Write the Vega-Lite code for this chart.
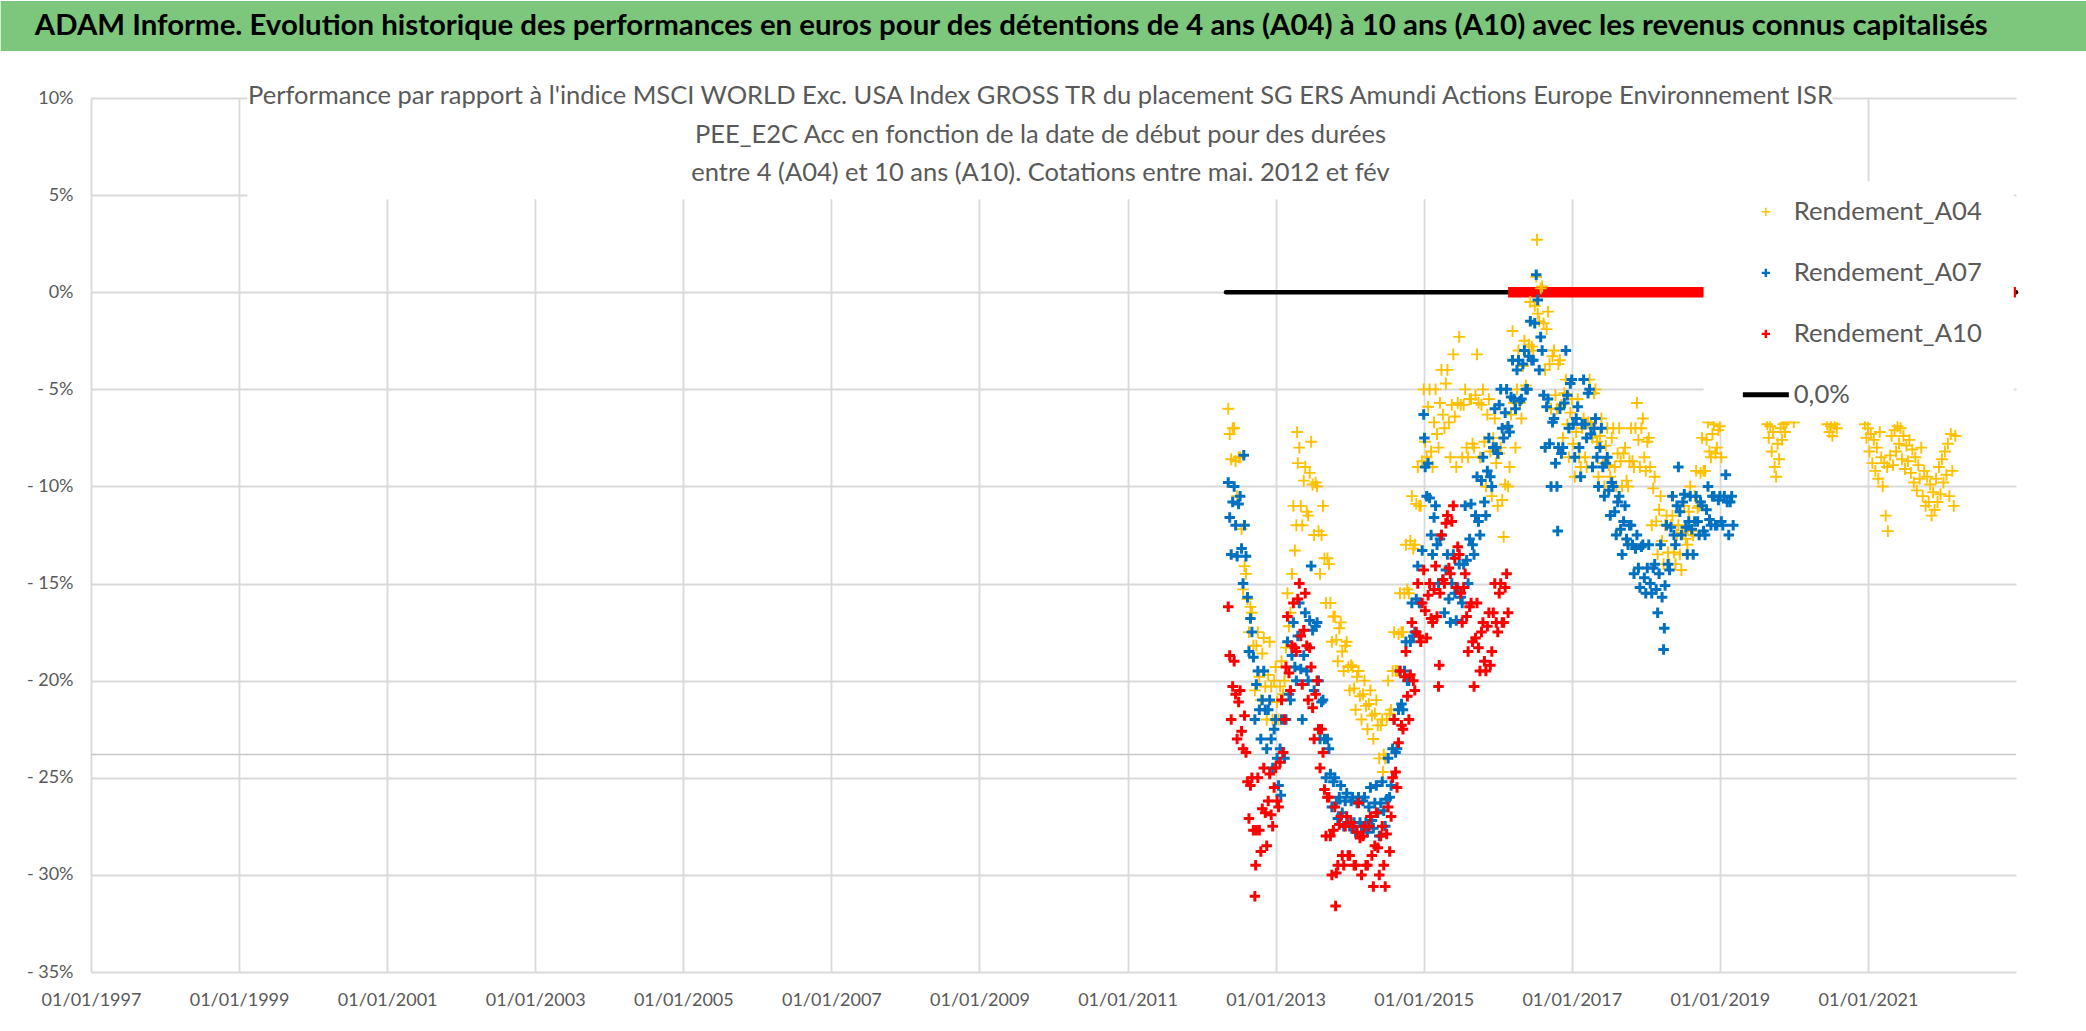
{
  "$schema": "https://vega.github.io/schema/vega-lite/v6.json",
  "padding": 0,
  "background": "white",
  "width": 1925,
  "height": 874,
  "config": {
    "view": {"stroke": null},
    "font": "Lato",
    "legend": {"labelFontSize": 25.7, "labelColor": "#595959", "labelOffset": 15, "rowPadding": 34, "symbolSize": 70, "symbolOpacity": 1, "padding": 0, "labelLimit": 400}
  },
  "title": {
    "text": ["Performance  par rapport à l'indice MSCI WORLD Exc. USA Index GROSS TR  du placement SG ERS Amundi Actions Europe Environnement ISR", "PEE_E2C Acc en fonction de la date de début pour des durées", "entre 4 (A04) et 10 ans (A10). Cotations entre mai. 2012 et fév"],
    "orient": "top", "frame": "group", "anchor": "middle", "offset": -186, "dx": -13,
    "fontSize": 25.5, "fontWeight": "normal", "color": "#595959", "lineHeight": 38.5
  },
  "datasets": {
    "zero": [{"t": 2012.33, "v": 0}, {"t": 2023.0, "v": 0}],
    "band": [{"t": 2016.14, "v": 0}, {"t": 2017, "v": 0}, {"t": 2018, "v": 0}, {"t": 2019, "v": 0}, {"t": 2020, "v": 0}, {"t": 2021, "v": 0}, {"t": 2022, "v": 0}, {"t": 2023.0, "v": 0}],
    "a04": [
      {"t":2012.36,"v":-6.0},{"t":2012.38,"v":-7.3},{"t":2012.40,"v":-8.6},{"t":2012.42,"v":-7.0},{"t":2012.44,"v":-7.0},{"t":2012.46,"v":-8.7},{"t":2012.48,"v":-10.5},{"t":2012.50,"v":-8.5},{"t":2012.52,"v":-8.5},{"t":2012.54,"v":-12.2},
      {"t":2012.56,"v":-15.3},{"t":2012.58,"v":-14.1},{"t":2012.60,"v":-14.5},{"t":2012.62,"v":-15.8},{"t":2012.64,"v":-17.5},{"t":2012.66,"v":-16.2},{"t":2012.68,"v":-16.5},{"t":2012.70,"v":-18.2},{"t":2012.72,"v":-20.5},{"t":2012.74,"v":-18.2},
      {"t":2012.76,"v":-17.5},{"t":2012.78,"v":-19.8},{"t":2012.80,"v":-21.0},{"t":2012.82,"v":-18.6},{"t":2012.84,"v":-17.8},{"t":2012.86,"v":-20.3},{"t":2012.88,"v":-22.0},{"t":2012.90,"v":-19.7},{"t":2012.92,"v":-18.0},{"t":2012.94,"v":-20.3},
      {"t":2012.96,"v":-22.0},{"t":2012.98,"v":-20.0},{"t":2013.00,"v":-19.3},{"t":2013.02,"v":-21.1},{"t":2013.04,"v":-22.0},{"t":2013.06,"v":-20.3},{"t":2013.08,"v":-19.0},{"t":2013.10,"v":-20.7},{"t":2013.12,"v":-20.0},{"t":2013.14,"v":-18.3},
      {"t":2013.16,"v":-15.5},{"t":2013.18,"v":-17.2},{"t":2013.20,"v":-16.5},{"t":2013.22,"v":-14.5},{"t":2013.24,"v":-11.0},{"t":2013.26,"v":-13.3},{"t":2013.28,"v":-12.0},{"t":2013.29,"v":-7.2},{"t":2013.30,"v":-8.8},{"t":2013.32,"v":-8.0},
      {"t":2013.34,"v":-11.0},{"t":2013.36,"v":-12.0},{"t":2013.38,"v":-9.7},{"t":2013.40,"v":-9.0},{"t":2013.42,"v":-11.3},{"t":2013.44,"v":-11.5},{"t":2013.46,"v":-9.3},{"t":2013.48,"v":-7.7},{"t":2013.50,"v":-9.9},{"t":2013.52,"v":-12.5},
      {"t":2013.54,"v":-9.8},{"t":2013.56,"v":-10.0},{"t":2013.58,"v":-12.3},{"t":2013.60,"v":-14.5},{"t":2013.62,"v":-12.5},{"t":2013.64,"v":-11.0},{"t":2013.66,"v":-13.7},{"t":2013.68,"v":-16.0},{"t":2013.70,"v":-13.7},{"t":2013.72,"v":-14.0},
      {"t":2013.74,"v":-16.0},{"t":2013.76,"v":-18.0},{"t":2013.78,"v":-16.7},{"t":2013.80,"v":-16.7},{"t":2013.82,"v":-17.9},{"t":2013.84,"v":-19.0},{"t":2013.86,"v":-17.3},{"t":2013.88,"v":-17.0},{"t":2013.90,"v":-18.5},{"t":2013.92,"v":-19.5},
      {"t":2013.94,"v":-18.2},{"t":2013.96,"v":-18.0},{"t":2013.98,"v":-19.3},{"t":2014.00,"v":-20.5},{"t":2014.02,"v":-19.2},{"t":2014.04,"v":-19.3},{"t":2014.06,"v":-20.4},{"t":2014.08,"v":-21.5},{"t":2014.10,"v":-19.8},{"t":2014.12,"v":-19.5},
      {"t":2014.14,"v":-20.8},{"t":2014.16,"v":-22.0},{"t":2014.18,"v":-20.7},{"t":2014.20,"v":-20.0},{"t":2014.22,"v":-21.3},{"t":2014.24,"v":-22.5},{"t":2014.26,"v":-21.2},{"t":2014.28,"v":-20.5},{"t":2014.30,"v":-21.8},{"t":2014.32,"v":-23.0},
      {"t":2014.34,"v":-21.7},{"t":2014.36,"v":-21.0},{"t":2014.38,"v":-22.3},{"t":2014.40,"v":-24.0},{"t":2014.42,"v":-22.3},{"t":2014.44,"v":-22.0},{"t":2014.45,"v":-24.7},{"t":2014.46,"v":-23.8},{"t":2014.48,"v":-24.0},{"t":2014.50,"v":-22.0},
      {"t":2014.52,"v":-20.0},{"t":2014.54,"v":-21.7},{"t":2014.56,"v":-21.5},{"t":2014.58,"v":-19.5},{"t":2014.60,"v":-17.5},{"t":2014.62,"v":-19.5},{"t":2014.64,"v":-19.5},{"t":2014.66,"v":-17.6},{"t":2014.68,"v":-15.5},{"t":2014.70,"v":-17.5},
      {"t":2014.72,"v":-17.5},{"t":2014.74,"v":-15.5},{"t":2014.76,"v":-13.0},{"t":2014.78,"v":-15.3},{"t":2014.80,"v":-15.5},{"t":2014.82,"v":-12.8},{"t":2014.84,"v":-10.5},{"t":2014.86,"v":-13.2},{"t":2014.88,"v":-13.0},{"t":2014.90,"v":-10.9},
      {"t":2014.92,"v":-9.0},{"t":2014.94,"v":-11.0},{"t":2014.96,"v":-11.0},{"t":2014.98,"v":-8.7},{"t":2015.00,"v":-5.0},{"t":2015.02,"v":-7.7},{"t":2015.04,"v":-8.5},{"t":2015.06,"v":-5.9},{"t":2015.08,"v":-5.0},{"t":2015.10,"v":-8.2},
      {"t":2015.12,"v":-9.0},{"t":2015.14,"v":-6.7},{"t":2015.16,"v":-5.0},{"t":2015.18,"v":-7.3},{"t":2015.20,"v":-8.0},{"t":2015.22,"v":-5.7},{"t":2015.24,"v":-4.0},{"t":2015.26,"v":-6.3},{"t":2015.28,"v":-7.0},{"t":2015.30,"v":-4.7},
      {"t":2015.32,"v":-4.0},{"t":2015.34,"v":-6.7},{"t":2015.36,"v":-8.5},{"t":2015.38,"v":-5.8},{"t":2015.40,"v":-3.2},{"t":2015.42,"v":-6.4},{"t":2015.44,"v":-9.0},{"t":2015.46,"v":-5.7},{"t":2015.48,"v":-2.3},{"t":2015.50,"v":-5.8},
      {"t":2015.52,"v":-8.5},{"t":2015.54,"v":-5.8},{"t":2015.56,"v":-5.0},{"t":2015.58,"v":-8.0},{"t":2015.60,"v":-8.5},{"t":2015.62,"v":-5.5},{"t":2015.64,"v":-5.5},{"t":2015.66,"v":-7.8},{"t":2015.68,"v":-8.0},{"t":2015.70,"v":-5.3},
      {"t":2015.72,"v":-3.2},{"t":2015.74,"v":-5.7},{"t":2015.76,"v":-8.5},{"t":2015.78,"v":-5.8},{"t":2015.80,"v":-5.0},{"t":2015.82,"v":-7.7},{"t":2015.84,"v":-10.0},{"t":2015.86,"v":-6.3},{"t":2015.88,"v":-5.5},{"t":2015.90,"v":-8.2},
      {"t":2015.92,"v":-10.5},{"t":2015.94,"v":-7.5},{"t":2015.96,"v":-6.5},{"t":2015.98,"v":-8.8},{"t":2016.00,"v":-11.0},{"t":2016.02,"v":-8.3},{"t":2016.04,"v":-8.0},{"t":2016.06,"v":-10.7},{"t":2016.08,"v":-12.6},{"t":2016.10,"v":-9.9},
      {"t":2016.12,"v":-7.0},{"t":2016.14,"v":-10.0},{"t":2016.16,"v":-9.0},{"t":2016.18,"v":-6.3},{"t":2016.20,"v":-2.0},{"t":2016.22,"v":-5.7},{"t":2016.24,"v":-8.0},{"t":2016.26,"v":-5.0},{"t":2016.28,"v":-3.0},{"t":2016.30,"v":-5.7},
      {"t":2016.32,"v":-6.5},{"t":2016.34,"v":-3.8},{"t":2016.36,"v":-2.5},{"t":2016.38,"v":-4.8},{"t":2016.40,"v":-5.0},{"t":2016.42,"v":-2.7},{"t":2016.44,"v":-0.5},{"t":2016.46,"v":-2.8},{"t":2016.48,"v":-3.0},{"t":2016.50,"v":-0.7},
      {"t":2016.52,"v":0.8},{"t":2016.53,"v":2.7},{"t":2016.54,"v":-1.1},{"t":2016.56,"v":-1.5},{"t":2016.58,"v":0.2},{"t":2016.60,"v":0.3},{"t":2016.62,"v":-1.6},{"t":2016.64,"v":-4.0},{"t":2016.66,"v":-1.9},{"t":2016.68,"v":-1.0},
      {"t":2016.70,"v":-3.7},{"t":2016.72,"v":-6.0},{"t":2016.74,"v":-3.3},{"t":2016.76,"v":-3.0},{"t":2016.78,"v":-5.3},{"t":2016.80,"v":-6.0},{"t":2016.82,"v":-3.7},{"t":2016.84,"v":-3.5},{"t":2016.86,"v":-5.8},{"t":2016.88,"v":-7.5},
      {"t":2016.90,"v":-5.2},{"t":2016.92,"v":-4.5},{"t":2016.94,"v":-6.8},{"t":2016.96,"v":-8.5},{"t":2016.98,"v":-6.2},{"t":2017.00,"v":-5.5},{"t":2017.02,"v":-7.8},{"t":2017.04,"v":-9.5},{"t":2017.06,"v":-7.2},{"t":2017.08,"v":-5.5},
      {"t":2017.10,"v":-8.5},{"t":2017.12,"v":-9.0},{"t":2017.14,"v":-7.0},{"t":2017.16,"v":-6.5},{"t":2017.18,"v":-8.5},{"t":2017.20,"v":-9.0},{"t":2017.22,"v":-6.7},{"t":2017.24,"v":-4.5},{"t":2017.26,"v":-6.8},{"t":2017.28,"v":-7.5},
      {"t":2017.30,"v":-5.2},{"t":2017.32,"v":-5.0},{"t":2017.34,"v":-7.7},{"t":2017.36,"v":-9.5},{"t":2017.38,"v":-7.4},{"t":2017.40,"v":-6.5},{"t":2017.42,"v":-8.8},{"t":2017.44,"v":-10.0},{"t":2017.46,"v":-7.9},{"t":2017.48,"v":-7.0},
      {"t":2017.50,"v":-8.9},{"t":2017.52,"v":-9.5},{"t":2017.54,"v":-7.5},{"t":2017.56,"v":-7.0},{"t":2017.58,"v":-9.0},{"t":2017.60,"v":-10.0},{"t":2017.62,"v":-8.3},{"t":2017.64,"v":-7.0},{"t":2017.66,"v":-8.7},{"t":2017.68,"v":-10.0},
      {"t":2017.70,"v":-8.3},{"t":2017.72,"v":-8.0},{"t":2017.74,"v":-9.7},{"t":2017.76,"v":-10.0},{"t":2017.78,"v":-8.7},{"t":2017.80,"v":-7.0},{"t":2017.82,"v":-8.7},{"t":2017.84,"v":-9.0},{"t":2017.86,"v":-7.0},{"t":2017.88,"v":-5.7},
      {"t":2017.90,"v":-7.6},{"t":2017.92,"v":-9.0},{"t":2017.94,"v":-7.0},{"t":2017.96,"v":-6.5},{"t":2017.98,"v":-8.5},{"t":2018.00,"v":-9.2},{"t":2018.02,"v":-7.7},{"t":2018.04,"v":-7.5},{"t":2018.06,"v":-9.0},{"t":2018.08,"v":-12.0},
      {"t":2018.10,"v":-10.1},{"t":2018.12,"v":-9.5},{"t":2018.14,"v":-11.8},{"t":2018.16,"v":-13.5},{"t":2018.18,"v":-11.2},{"t":2018.20,"v":-10.5},{"t":2018.22,"v":-12.8},{"t":2018.24,"v":-14.0},{"t":2018.26,"v":-12.0},{"t":2018.28,"v":-11.5},
      {"t":2018.30,"v":-13.4},{"t":2018.32,"v":-14.0},{"t":2018.34,"v":-12.0},{"t":2018.36,"v":-11.5},{"t":2018.38,"v":-13.4},{"t":2018.40,"v":-14.0},{"t":2018.42,"v":-12.5},{"t":2018.44,"v":-12.0},{"t":2018.46,"v":-13.5},{"t":2018.48,"v":-14.3},
      {"t":2018.50,"v":-12.4},{"t":2018.52,"v":-11.0},{"t":2018.54,"v":-12.7},{"t":2018.56,"v":-13.0},{"t":2018.58,"v":-11.3},{"t":2018.60,"v":-10.0},{"t":2018.62,"v":-12.3},{"t":2018.64,"v":-12.5},{"t":2018.66,"v":-10.5},{"t":2018.68,"v":-9.2},
      {"t":2018.70,"v":-11.1},{"t":2018.72,"v":-11.0},{"t":2018.74,"v":-9.3},{"t":2018.76,"v":-7.5},{"t":2018.78,"v":-9.2},{"t":2018.80,"v":-9.2},{"t":2018.82,"v":-7.6},{"t":2018.84,"v":-6.7},{"t":2018.86,"v":-8.2},{"t":2018.88,"v":-8.5},
      {"t":2018.90,"v":-7.3},{"t":2018.92,"v":-6.8},{"t":2018.94,"v":-8.3},{"t":2018.96,"v":-8.0},{"t":2018.98,"v":-7.1},{"t":2019.00,"v":-6.9},{"t":2019.02,"v":-8.5},{"t":2019.06,"v":-5.8},{"t":2019.14,"v":-6.2},{"t":2019.22,"v":-5.4},
      {"t":2019.30,"v":-4.8},{"t":2019.40,"v":-5.2},{"t":2019.50,"v":-5.9},{"t":2019.58,"v":-6.3},{"t":2019.64,"v":-6.8},{"t":2019.66,"v":-7.5},{"t":2019.68,"v":-6.9},{"t":2019.70,"v":-8.2},{"t":2019.72,"v":-7.2},{"t":2019.74,"v":-9.0},
      {"t":2019.76,"v":-9.5},{"t":2019.78,"v":-7.8},{"t":2019.80,"v":-8.6},{"t":2019.82,"v":-7.0},{"t":2019.84,"v":-7.6},{"t":2019.86,"v":-6.8},{"t":2019.88,"v":-7.2},{"t":2019.90,"v":-6.7},{"t":2019.96,"v":-5.5},{"t":2020.00,"v":-6.7},
      {"t":2020.08,"v":-5.0},{"t":2020.18,"v":-4.2},{"t":2020.28,"v":-4.8},{"t":2020.38,"v":-6.0},{"t":2020.45,"v":-6.8},{"t":2020.48,"v":-7.2},{"t":2020.50,"v":-6.9},{"t":2020.52,"v":-7.4},{"t":2020.55,"v":-6.8},{"t":2020.58,"v":-7.0},
      {"t":2020.66,"v":-6.0},{"t":2020.76,"v":-5.0},{"t":2020.86,"v":-4.6},{"t":2020.92,"v":-5.8},{"t":2020.96,"v":-6.8},{"t":2020.98,"v":-7.5},{"t":2021.00,"v":-7.0},{"t":2021.02,"v":-8.2},{"t":2021.04,"v":-7.3},{"t":2021.06,"v":-8.8},
      {"t":2021.08,"v":-7.6},{"t":2021.10,"v":-9.2},{"t":2021.12,"v":-8.0},{"t":2021.14,"v":-9.6},{"t":2021.16,"v":-7.2},{"t":2021.18,"v":-8.5},{"t":2021.20,"v":-10.0},{"t":2021.22,"v":-8.8},{"t":2021.24,"v":-11.5},{"t":2021.26,"v":-9.0},
      {"t":2021.27,"v":-12.3},{"t":2021.30,"v":-8.4},{"t":2021.32,"v":-7.4},{"t":2021.34,"v":-8.9},{"t":2021.36,"v":-7.1},{"t":2021.38,"v":-8.2},{"t":2021.40,"v":-6.9},{"t":2021.42,"v":-7.8},{"t":2021.44,"v":-7.0},{"t":2021.46,"v":-8.6},
      {"t":2021.48,"v":-7.4},{"t":2021.50,"v":-9.1},{"t":2021.52,"v":-7.9},{"t":2021.54,"v":-8.7},{"t":2021.56,"v":-7.6},{"t":2021.58,"v":-9.3},{"t":2021.60,"v":-8.1},{"t":2021.62,"v":-9.8},{"t":2021.64,"v":-8.5},{"t":2021.66,"v":-10.2},
      {"t":2021.68,"v":-8.9},{"t":2021.70,"v":-9.6},{"t":2021.72,"v":-8.0},{"t":2021.74,"v":-10.5},{"t":2021.76,"v":-9.2},{"t":2021.78,"v":-11.0},{"t":2021.80,"v":-9.5},{"t":2021.82,"v":-10.8},{"t":2021.84,"v":-9.9},{"t":2021.86,"v":-11.5},
      {"t":2021.88,"v":-10.3},{"t":2021.90,"v":-11.2},{"t":2021.92,"v":-9.6},{"t":2021.94,"v":-10.8},{"t":2021.96,"v":-9.0},{"t":2021.98,"v":-10.4},{"t":2022.00,"v":-8.6},{"t":2022.02,"v":-9.8},{"t":2022.04,"v":-8.2},{"t":2022.06,"v":-9.4},
      {"t":2022.08,"v":-7.8},{"t":2022.10,"v":-10.5},{"t":2022.12,"v":-7.3},{"t":2022.14,"v":-9.2},{"t":2022.16,"v":-11.0},{"t":2022.18,"v":-7.4}
    ],
    "a07": [
      {"t":2012.36,"v":-9.8},{"t":2012.38,"v":-11.6},{"t":2012.40,"v":-13.5},{"t":2012.42,"v":-10.8},{"t":2012.44,"v":-10.0},{"t":2012.46,"v":-12.0},{"t":2012.48,"v":-13.6},{"t":2012.50,"v":-10.9},{"t":2012.52,"v":-10.5},{"t":2012.54,"v":-13.2},
      {"t":2012.56,"v":-15.0},{"t":2012.57,"v":-8.4},{"t":2012.58,"v":-12.0},{"t":2012.60,"v":-13.6},{"t":2012.62,"v":-15.7},{"t":2012.64,"v":-18.5},{"t":2012.66,"v":-16.8},{"t":2012.68,"v":-17.5},{"t":2012.70,"v":-18.8},{"t":2012.72,"v":-22.0},
      {"t":2012.74,"v":-20.2},{"t":2012.76,"v":-19.5},{"t":2012.78,"v":-21.5},{"t":2012.80,"v":-23.0},{"t":2012.82,"v":-21.0},{"t":2012.84,"v":-19.5},{"t":2012.86,"v":-21.5},{"t":2012.88,"v":-23.5},{"t":2012.90,"v":-21.5},{"t":2012.92,"v":-21.0},
      {"t":2012.94,"v":-23.0},{"t":2012.96,"v":-24.5},{"t":2012.98,"v":-22.5},{"t":2013.00,"v":-22.0},{"t":2013.02,"v":-24.0},{"t":2013.04,"v":-25.4},{"t":2013.06,"v":-23.5},{"t":2013.07,"v":-25.9},{"t":2013.08,"v":-22.0},{"t":2013.10,"v":-23.7},
      {"t":2013.12,"v":-24.0},{"t":2013.14,"v":-22.0},{"t":2013.16,"v":-18.0},{"t":2013.18,"v":-20.7},{"t":2013.20,"v":-21.0},{"t":2013.22,"v":-18.7},{"t":2013.24,"v":-17.0},{"t":2013.26,"v":-19.3},{"t":2013.28,"v":-20.0},{"t":2013.30,"v":-17.7},
      {"t":2013.32,"v":-16.0},{"t":2013.34,"v":-19.4},{"t":2013.36,"v":-22.0},{"t":2013.38,"v":-18.7},{"t":2013.40,"v":-16.5},{"t":2013.42,"v":-19.5},{"t":2013.44,"v":-20.0},{"t":2013.46,"v":-16.9},{"t":2013.48,"v":-14.1},{"t":2013.50,"v":-17.4},
      {"t":2013.52,"v":-20.5},{"t":2013.54,"v":-17.2},{"t":2013.56,"v":-17.0},{"t":2013.58,"v":-20.0},{"t":2013.60,"v":-23.0},{"t":2013.62,"v":-21.1},{"t":2013.64,"v":-21.0},{"t":2013.66,"v":-23.0},{"t":2013.68,"v":-25.0},{"t":2013.70,"v":-23.0},
      {"t":2013.72,"v":-23.5},{"t":2013.74,"v":-24.8},{"t":2013.76,"v":-26.5},{"t":2013.78,"v":-25.2},{"t":2013.80,"v":-25.0},{"t":2013.82,"v":-26.3},{"t":2013.84,"v":-27.1},{"t":2013.86,"v":-26.0},{"t":2013.88,"v":-25.4},{"t":2013.90,"v":-26.8},
      {"t":2013.92,"v":-27.5},{"t":2013.94,"v":-26.2},{"t":2013.96,"v":-25.8},{"t":2013.98,"v":-27.3},{"t":2014.00,"v":-27.5},{"t":2014.02,"v":-26.2},{"t":2014.04,"v":-26.0},{"t":2014.06,"v":-27.3},{"t":2014.08,"v":-27.8},{"t":2014.10,"v":-26.3},
      {"t":2014.12,"v":-26.0},{"t":2014.14,"v":-27.3},{"t":2014.16,"v":-27.5},{"t":2014.18,"v":-26.2},{"t":2014.20,"v":-26.0},{"t":2014.22,"v":-27.3},{"t":2014.24,"v":-27.8},{"t":2014.26,"v":-26.5},{"t":2014.28,"v":-25.5},{"t":2014.30,"v":-27.2},
      {"t":2014.32,"v":-27.6},{"t":2014.34,"v":-26.3},{"t":2014.36,"v":-25.4},{"t":2014.38,"v":-26.8},{"t":2014.40,"v":-28.0},{"t":2014.42,"v":-26.3},{"t":2014.44,"v":-25.2},{"t":2014.46,"v":-26.7},{"t":2014.48,"v":-27.5},{"t":2014.50,"v":-26.1},
      {"t":2014.52,"v":-24.0},{"t":2014.54,"v":-26.0},{"t":2014.56,"v":-25.4},{"t":2014.58,"v":-23.5},{"t":2014.60,"v":-22.0},{"t":2014.62,"v":-23.7},{"t":2014.64,"v":-23.5},{"t":2014.66,"v":-21.5},{"t":2014.68,"v":-19.5},{"t":2014.70,"v":-21.2},
      {"t":2014.72,"v":-21.5},{"t":2014.74,"v":-19.5},{"t":2014.76,"v":-18.0},{"t":2014.78,"v":-20.0},{"t":2014.80,"v":-20.0},{"t":2014.82,"v":-18.0},{"t":2014.84,"v":-16.0},{"t":2014.86,"v":-17.7},{"t":2014.88,"v":-17.5},{"t":2014.90,"v":-15.8},
      {"t":2014.92,"v":-14.1},{"t":2014.94,"v":-16.0},{"t":2014.96,"v":-16.0},{"t":2014.98,"v":-13.3},{"t":2015.00,"v":-6.3},{"t":2015.01,"v":-7.5},{"t":2015.02,"v":-9.0},{"t":2015.04,"v":-10.5},{"t":2015.06,"v":-8.8},{"t":2015.08,"v":-10.6},
      {"t":2015.10,"v":-12.5},{"t":2015.12,"v":-13.5},{"t":2015.14,"v":-11.6},{"t":2015.16,"v":-11.0},{"t":2015.18,"v":-13.0},{"t":2015.20,"v":-15.0},{"t":2015.22,"v":-12.7},{"t":2015.24,"v":-12.5},{"t":2015.26,"v":-14.8},{"t":2015.28,"v":-16.5},
      {"t":2015.30,"v":-14.3},{"t":2015.32,"v":-13.5},{"t":2015.34,"v":-15.8},{"t":2015.36,"v":-17.0},{"t":2015.38,"v":-15.0},{"t":2015.40,"v":-13.5},{"t":2015.42,"v":-15.5},{"t":2015.44,"v":-16.9},{"t":2015.46,"v":-15.2},{"t":2015.48,"v":-14.0},
      {"t":2015.50,"v":-15.7},{"t":2015.52,"v":-16.0},{"t":2015.54,"v":-14.0},{"t":2015.56,"v":-11.0},{"t":2015.58,"v":-13.8},{"t":2015.60,"v":-15.0},{"t":2015.62,"v":-12.7},{"t":2015.64,"v":-10.9},{"t":2015.66,"v":-13.0},{"t":2015.68,"v":-13.5},
      {"t":2015.70,"v":-11.5},{"t":2015.72,"v":-9.5},{"t":2015.74,"v":-11.8},{"t":2015.76,"v":-12.5},{"t":2015.78,"v":-9.7},{"t":2015.80,"v":-8.5},{"t":2015.82,"v":-10.8},{"t":2015.84,"v":-11.5},{"t":2015.86,"v":-9.2},{"t":2015.88,"v":-7.5},
      {"t":2015.90,"v":-9.5},{"t":2015.92,"v":-10.0},{"t":2015.94,"v":-8.0},{"t":2015.96,"v":-6.0},{"t":2015.98,"v":-8.0},{"t":2016.00,"v":-8.3},{"t":2016.02,"v":-5.8},{"t":2016.04,"v":-5.0},{"t":2016.06,"v":-7.0},{"t":2016.08,"v":-7.5},
      {"t":2016.10,"v":-6.2},{"t":2016.12,"v":-5.0},{"t":2016.14,"v":-6.9},{"t":2016.16,"v":-7.2},{"t":2016.18,"v":-5.4},{"t":2016.20,"v":-3.5},{"t":2016.22,"v":-5.5},{"t":2016.24,"v":-6.0},{"t":2016.26,"v":-4.0},{"t":2016.28,"v":-3.5},
      {"t":2016.30,"v":-5.6},{"t":2016.32,"v":-5.5},{"t":2016.34,"v":-3.7},{"t":2016.36,"v":-3.0},{"t":2016.38,"v":-5.0},{"t":2016.40,"v":-5.0},{"t":2016.42,"v":-3.3},{"t":2016.44,"v":-1.5},{"t":2016.46,"v":-3.5},{"t":2016.48,"v":-3.5},
      {"t":2016.50,"v":-1.6},{"t":2016.52,"v":0.9},{"t":2016.54,"v":-0.4},{"t":2016.56,"v":-4.0},{"t":2016.58,"v":-2.3},{"t":2016.60,"v":-3.0},{"t":2016.62,"v":-5.3},{"t":2016.64,"v":-8.0},{"t":2016.66,"v":-5.9},{"t":2016.68,"v":-5.5},
      {"t":2016.70,"v":-7.8},{"t":2016.72,"v":-10.0},{"t":2016.74,"v":-6.7},{"t":2016.76,"v":-6.5},{"t":2016.78,"v":-8.8},{"t":2016.80,"v":-10.0},{"t":2016.81,"v":-12.3},{"t":2016.82,"v":-8.0},{"t":2016.84,"v":-6.0},{"t":2016.86,"v":-8.3},
      {"t":2016.88,"v":-8.0},{"t":2016.90,"v":-5.7},{"t":2016.92,"v":-3.0},{"t":2016.94,"v":-5.3},{"t":2016.96,"v":-7.0},{"t":2016.98,"v":-4.7},{"t":2017.00,"v":-4.5},{"t":2017.02,"v":-6.8},{"t":2017.04,"v":-8.5},{"t":2017.06,"v":-6.5},
      {"t":2017.08,"v":-5.9},{"t":2017.10,"v":-8.0},{"t":2017.12,"v":-9.5},{"t":2017.14,"v":-6.8},{"t":2017.16,"v":-4.5},{"t":2017.18,"v":-6.8},{"t":2017.20,"v":-7.5},{"t":2017.22,"v":-5.2},{"t":2017.24,"v":-5.0},{"t":2017.26,"v":-7.3},
      {"t":2017.28,"v":-9.0},{"t":2017.30,"v":-7.0},{"t":2017.32,"v":-6.5},{"t":2017.34,"v":-8.5},{"t":2017.36,"v":-10.0},{"t":2017.38,"v":-8.0},{"t":2017.40,"v":-7.0},{"t":2017.42,"v":-9.0},{"t":2017.44,"v":-10.5},{"t":2017.46,"v":-8.8},
      {"t":2017.48,"v":-8.5},{"t":2017.50,"v":-10.2},{"t":2017.52,"v":-11.5},{"t":2017.54,"v":-9.8},{"t":2017.56,"v":-10.0},{"t":2017.58,"v":-11.3},{"t":2017.60,"v":-12.5},{"t":2017.62,"v":-10.8},{"t":2017.64,"v":-10.5},{"t":2017.66,"v":-12.2},
      {"t":2017.68,"v":-13.5},{"t":2017.70,"v":-11.8},{"t":2017.72,"v":-11.0},{"t":2017.74,"v":-12.7},{"t":2017.76,"v":-13.0},{"t":2017.78,"v":-12.0},{"t":2017.80,"v":-12.0},{"t":2017.82,"v":-13.0},{"t":2017.84,"v":-14.5},{"t":2017.86,"v":-13.2},
      {"t":2017.88,"v":-12.5},{"t":2017.90,"v":-14.2},{"t":2017.92,"v":-15.2},{"t":2017.94,"v":-13.1},{"t":2017.96,"v":-13.0},{"t":2017.98,"v":-14.7},{"t":2018.00,"v":-15.5},{"t":2018.02,"v":-14.2},{"t":2018.04,"v":-13.0},{"t":2018.06,"v":-15.0},
      {"t":2018.08,"v":-15.5},{"t":2018.10,"v":-14.2},{"t":2018.12,"v":-14.0},{"t":2018.14,"v":-15.3},{"t":2018.16,"v":-16.5},{"t":2018.18,"v":-14.5},{"t":2018.20,"v":-13.0},{"t":2018.22,"v":-15.7},{"t":2018.24,"v":-18.4},{"t":2018.25,"v":-17.3},
      {"t":2018.26,"v":-15.1},{"t":2018.28,"v":-12.0},{"t":2018.30,"v":-14.0},{"t":2018.32,"v":-14.3},{"t":2018.34,"v":-12.1},{"t":2018.36,"v":-10.5},{"t":2018.38,"v":-12.5},{"t":2018.40,"v":-13.0},{"t":2018.42,"v":-11.0},{"t":2018.44,"v":-9.0},
      {"t":2018.46,"v":-11.3},{"t":2018.48,"v":-12.5},{"t":2018.50,"v":-10.8},{"t":2018.52,"v":-10.4},{"t":2018.54,"v":-12.1},{"t":2018.56,"v":-13.5},{"t":2018.58,"v":-11.8},{"t":2018.60,"v":-10.5},{"t":2018.62,"v":-12.2},{"t":2018.64,"v":-13.5},
      {"t":2018.66,"v":-11.8},{"t":2018.68,"v":-10.5},{"t":2018.70,"v":-11.8},{"t":2018.72,"v":-12.5},{"t":2018.74,"v":-10.8},{"t":2018.76,"v":-11.0},{"t":2018.78,"v":-12.3},{"t":2018.80,"v":-12.5},{"t":2018.82,"v":-11.2},{"t":2018.84,"v":-10.0},
      {"t":2018.86,"v":-11.7},{"t":2018.88,"v":-12.0},{"t":2018.90,"v":-10.5},{"t":2018.92,"v":-10.5},{"t":2018.94,"v":-12.0},{"t":2018.96,"v":-12.0},{"t":2018.98,"v":-10.7},{"t":2019.00,"v":-10.5},{"t":2019.02,"v":-11.8},{"t":2019.04,"v":-12.0},
      {"t":2019.06,"v":-10.5},{"t":2019.08,"v":-9.4},{"t":2019.10,"v":-10.8},{"t":2019.12,"v":-12.5},{"t":2019.14,"v":-10.8},{"t":2019.16,"v":-10.5},{"t":2019.18,"v":-12.0}
    ],
    "a10": [
      {"t":2012.36,"v":-16.2},{"t":2012.38,"v":-18.7},{"t":2012.40,"v":-22.0},{"t":2012.42,"v":-20.3},{"t":2012.44,"v":-19.0},{"t":2012.46,"v":-20.7},{"t":2012.48,"v":-23.0},{"t":2012.50,"v":-21.1},{"t":2012.52,"v":-20.5},{"t":2012.54,"v":-22.6},
      {"t":2012.56,"v":-23.5},{"t":2012.58,"v":-21.8},{"t":2012.60,"v":-23.7},{"t":2012.62,"v":-25.2},{"t":2012.64,"v":-27.1},{"t":2012.66,"v":-25.4},{"t":2012.68,"v":-25.0},{"t":2012.70,"v":-27.7},{"t":2012.72,"v":-31.1},{"t":2012.73,"v":-29.5},
      {"t":2012.74,"v":-27.7},{"t":2012.76,"v":-25.0},{"t":2012.78,"v":-27.7},{"t":2012.80,"v":-28.8},{"t":2012.82,"v":-26.6},{"t":2012.84,"v":-24.5},{"t":2012.86,"v":-26.8},{"t":2012.88,"v":-28.5},{"t":2012.90,"v":-26.2},{"t":2012.92,"v":-24.8},
      {"t":2012.94,"v":-26.9},{"t":2012.96,"v":-27.5},{"t":2012.98,"v":-25.5},{"t":2013.00,"v":-24.5},{"t":2013.02,"v":-26.2},{"t":2013.04,"v":-26.5},{"t":2013.06,"v":-24.2},{"t":2013.08,"v":-21.0},{"t":2013.10,"v":-23.7},{"t":2013.12,"v":-22.0},
      {"t":2013.14,"v":-19.3},{"t":2013.16,"v":-16.7},{"t":2013.18,"v":-19.6},{"t":2013.20,"v":-20.5},{"t":2013.22,"v":-18.2},{"t":2013.24,"v":-16.0},{"t":2013.26,"v":-18.3},{"t":2013.28,"v":-18.5},{"t":2013.30,"v":-15.8},{"t":2013.32,"v":-15.0},
      {"t":2013.34,"v":-17.7},{"t":2013.36,"v":-20.2},{"t":2013.38,"v":-17.4},{"t":2013.40,"v":-15.5},{"t":2013.42,"v":-18.2},{"t":2013.44,"v":-21.0},{"t":2013.46,"v":-18.3},{"t":2013.48,"v":-19.3},{"t":2013.50,"v":-21.4},{"t":2013.52,"v":-23.0},
      {"t":2013.54,"v":-20.7},{"t":2013.56,"v":-20.0},{"t":2013.58,"v":-22.5},{"t":2013.60,"v":-24.5},{"t":2013.62,"v":-22.5},{"t":2013.64,"v":-23.7},{"t":2013.66,"v":-25.6},{"t":2013.68,"v":-28.0},{"t":2013.70,"v":-26.0},{"t":2013.72,"v":-26.0},
      {"t":2013.74,"v":-28.0},{"t":2013.76,"v":-30.0},{"t":2013.78,"v":-27.7},{"t":2013.80,"v":-26.5},{"t":2013.81,"v":-31.6},{"t":2013.82,"v":-29.9},{"t":2013.84,"v":-29.5},{"t":2013.86,"v":-27.4},{"t":2013.88,"v":-27.0},{"t":2013.90,"v":-29.0},
      {"t":2013.92,"v":-29.5},{"t":2013.94,"v":-27.5},{"t":2013.96,"v":-27.0},{"t":2013.98,"v":-29.0},{"t":2014.00,"v":-29.0},{"t":2014.02,"v":-27.3},{"t":2014.04,"v":-27.5},{"t":2014.06,"v":-29.5},{"t":2014.08,"v":-29.5},{"t":2014.10,"v":-27.8},
      {"t":2014.12,"v":-26.3},{"t":2014.14,"v":-28.1},{"t":2014.16,"v":-30.0},{"t":2014.18,"v":-28.0},{"t":2014.20,"v":-27.5},{"t":2014.22,"v":-29.5},{"t":2014.24,"v":-29.5},{"t":2014.26,"v":-27.5},{"t":2014.28,"v":-27.0},{"t":2014.30,"v":-29.0},
      {"t":2014.32,"v":-30.6},{"t":2014.34,"v":-28.5},{"t":2014.36,"v":-26.8},{"t":2014.38,"v":-28.6},{"t":2014.40,"v":-30.0},{"t":2014.42,"v":-28.0},{"t":2014.44,"v":-27.5},{"t":2014.46,"v":-29.5},{"t":2014.48,"v":-30.6},{"t":2014.50,"v":-27.9},
      {"t":2014.52,"v":-26.5},{"t":2014.54,"v":-28.8},{"t":2014.56,"v":-27.0},{"t":2014.58,"v":-25.0},{"t":2014.60,"v":-22.0},{"t":2014.62,"v":-24.7},{"t":2014.64,"v":-25.5},{"t":2014.66,"v":-23.2},{"t":2014.68,"v":-19.5},{"t":2014.70,"v":-22.3},
      {"t":2014.72,"v":-22.5},{"t":2014.74,"v":-19.8},{"t":2014.76,"v":-18.5},{"t":2014.78,"v":-20.8},{"t":2014.80,"v":-22.0},{"t":2014.82,"v":-19.7},{"t":2014.84,"v":-17.0},{"t":2014.86,"v":-20.0},{"t":2014.88,"v":-20.5},{"t":2014.90,"v":-17.5},
      {"t":2014.92,"v":-15.0},{"t":2014.94,"v":-17.7},{"t":2014.96,"v":-18.0},{"t":2014.98,"v":-16.0},{"t":2015.00,"v":-14.3},{"t":2015.02,"v":-16.4},{"t":2015.04,"v":-17.8},{"t":2015.06,"v":-15.6},{"t":2015.08,"v":-15.0},{"t":2015.10,"v":-16.8},
      {"t":2015.12,"v":-17.0},{"t":2015.14,"v":-15.3},{"t":2015.16,"v":-14.1},{"t":2015.18,"v":-16.7},{"t":2015.20,"v":-20.3},{"t":2015.21,"v":-19.2},{"t":2015.22,"v":-15.5},{"t":2015.24,"v":-12.5},{"t":2015.26,"v":-14.8},{"t":2015.28,"v":-15.0},
      {"t":2015.30,"v":-11.9},{"t":2015.32,"v":-11.5},{"t":2015.34,"v":-14.2},{"t":2015.36,"v":-14.5},{"t":2015.38,"v":-11.8},{"t":2015.40,"v":-11.0},{"t":2015.42,"v":-13.7},{"t":2015.44,"v":-15.2},{"t":2015.46,"v":-13.1},{"t":2015.48,"v":-13.5},
      {"t":2015.50,"v":-15.5},{"t":2015.52,"v":-17.0},{"t":2015.54,"v":-15.2},{"t":2015.56,"v":-14.5},{"t":2015.58,"v":-16.7},{"t":2015.60,"v":-18.5},{"t":2015.62,"v":-16.2},{"t":2015.64,"v":-16.0},{"t":2015.66,"v":-18.0},{"t":2015.68,"v":-20.3},
      {"t":2015.70,"v":-17.8},{"t":2015.72,"v":-16.0},{"t":2015.74,"v":-18.3},{"t":2015.76,"v":-19.5},{"t":2015.78,"v":-17.5},{"t":2015.80,"v":-17.0},{"t":2015.82,"v":-19.0},{"t":2015.84,"v":-19.5},{"t":2015.86,"v":-17.2},{"t":2015.88,"v":-16.5},
      {"t":2015.90,"v":-19.2},{"t":2015.92,"v":-18.5},{"t":2015.94,"v":-16.5},{"t":2015.96,"v":-15.0},{"t":2015.98,"v":-17.0},{"t":2016.00,"v":-17.5},{"t":2016.02,"v":-15.5},{"t":2016.04,"v":-15.0},{"t":2016.06,"v":-17.0},{"t":2016.08,"v":-17.0},
      {"t":2016.10,"v":-15.2},{"t":2016.12,"v":-14.5},{"t":2016.14,"v":-16.5}
    ]
  },
  "layer": [
    {
      "data": {"name": "zero"},
      "mark": {"type": "line", "strokeWidth": 4.5, "strokeCap": "round"},
      "encoding": {
        "x": {"field": "t", "type": "quantitative", "scale": {"domain": [1997, 2023], "nice": false, "zero": false},
          "axis": {"values": [1997, 1999, 2001, 2003, 2005, 2007, 2009, 2011, 2013, 2015, 2017, 2019, 2021], "labelExpr": "'01/01/' + datum.value", "title": null, "domain": false, "ticks": false, "grid": true, "gridColor": "#D9D9D9", "gridWidth": 1.8, "labelFontSize": 18, "labelColor": "#595959", "labelPadding": 19, "labelFlush": false, "labelOverlap": false}},
        "y": {"field": "v", "type": "quantitative", "scale": {"domain": [-35, 10], "nice": false, "zero": false},
          "axis": {"values": [-35, -30, -25, -20, -15, -10, -5, 0, 5, 10], "labelExpr": "datum.value < 0 ? '- ' + (-datum.value) + '%' : datum.value + '%'", "title": null, "domain": false, "ticks": false, "grid": true, "gridColor": "#D9D9D9", "gridWidth": 1.8, "labelFontSize": 18, "labelColor": "#595959", "labelPadding": 18}},
        "color": {"datum": "0,0%", "scale": {"domain": ["Rendement_A04", "Rendement_A07", "Rendement_A10", "0,0%"], "range": ["#FFC000", "#0070C0", "#FF0000", "#000000"]},
          "legend": {"title": null, "orient": "none", "legendX": 1662, "legendY": 101,
            "encode": {"symbols": {"update": {"fill": {"value": "transparent"}, "strokeWidth": {"signal": "datum.value === '0,0%' ? 5 : (datum.value === 'Rendement_A04' ? 1.5 : 2.4)"}}}}}}
      }
    },
    {
      "data": {"values": [{}]},
      "mark": {"type": "rule", "color": "#C8C8C8", "strokeWidth": 1.5},
      "encoding": {"y": {"datum": -23.8, "type": "quantitative"}}
    },
    {
      "data": {"name": "band"},
      "mark": {"type": "line", "strokeWidth": 10.5, "strokeCap": "butt", "color": "#FF0000"},
      "encoding": {
        "x": {"field": "t", "type": "quantitative"},
        "y": {"field": "v", "type": "quantitative"}
      }
    },
    {
      "data": {"name": "a04"},
      "mark": {"type": "point", "filled": false, "strokeWidth": 1.9, "size": 140, "opacity": 1},
      "encoding": {
        "x": {"field": "t", "type": "quantitative"},
        "y": {"field": "v", "type": "quantitative"},
        "color": {"datum": "Rendement_A04"},
        "shape": {"datum": "Rendement_A04", "scale": {"domain": ["Rendement_A04", "Rendement_A07", "Rendement_A10", "0,0%"], "range": ["M-1,0H1M0,-1V1", "M-1,0H1M0,-1V1", "M-1,0H1M0,-1V1", "M-5.5,0H5.5"]},
          "legend": {"title": null, "orient": "none", "legendX": 1662, "legendY": 101}}
      }
    },
    {
      "data": {"name": "a07"},
      "mark": {"type": "point", "filled": false, "strokeWidth": 3, "size": 110, "opacity": 1},
      "encoding": {
        "x": {"field": "t", "type": "quantitative"},
        "y": {"field": "v", "type": "quantitative"},
        "color": {"datum": "Rendement_A07"},
        "shape": {"datum": "Rendement_A07"}
      }
    },
    {
      "data": {"name": "a10"},
      "mark": {"type": "point", "filled": false, "strokeWidth": 3, "size": 110, "opacity": 1},
      "encoding": {
        "x": {"field": "t", "type": "quantitative"},
        "y": {"field": "v", "type": "quantitative"},
        "color": {"datum": "Rendement_A10"},
        "shape": {"datum": "Rendement_A10"}
      }
    },
    {
      "data": {"values": [{}]},
      "mark": {"type": "rect", "color": "#FFFFFF", "opacity": 1},
      "encoding": {
        "x": {"datum": 1999.11, "type": "quantitative"},
        "x2": {"datum": 2020.52},
        "y": {"datum": 10.3, "type": "quantitative"},
        "y2": {"datum": 4.79}
      }
    },
    {
      "data": {"values": [{}]},
      "mark": {"type": "rect", "color": "#FFFFFF", "opacity": 1},
      "encoding": {
        "x": {"datum": 2018.78, "type": "quantitative"},
        "x2": {"datum": 2022.97},
        "y": {"datum": 5.72, "type": "quantitative"},
        "y2": {"datum": -6.64}
      }
    },
    {
      "data": {"values": [{}]},
      "mark": {"type": "rect", "color": "#7CC77C", "opacity": 1},
      "encoding": {
        "x": {"datum": 1995.78, "type": "quantitative"},
        "x2": {"datum": 2023.95},
        "y": {"datum": 15.0, "type": "quantitative"},
        "y2": {"datum": 12.42}
      }
    },
    {
      "data": {"values": [{"txt": "ADAM Informe. Evolution historique des performances en euros pour des détentions de 4 ans (A04) à 10 ans (A10) avec les revenus connus capitalisés"}]},
      "mark": {"type": "text", "fontSize": 29.4, "fontWeight": "bold", "color": "#000000", "align": "center", "baseline": "middle"},
      "encoding": {
        "x": {"datum": 2009.43, "type": "quantitative"},
        "y": {"datum": 13.71, "type": "quantitative"},
        "text": {"field": "txt"}
      }
    }
  ]
}
